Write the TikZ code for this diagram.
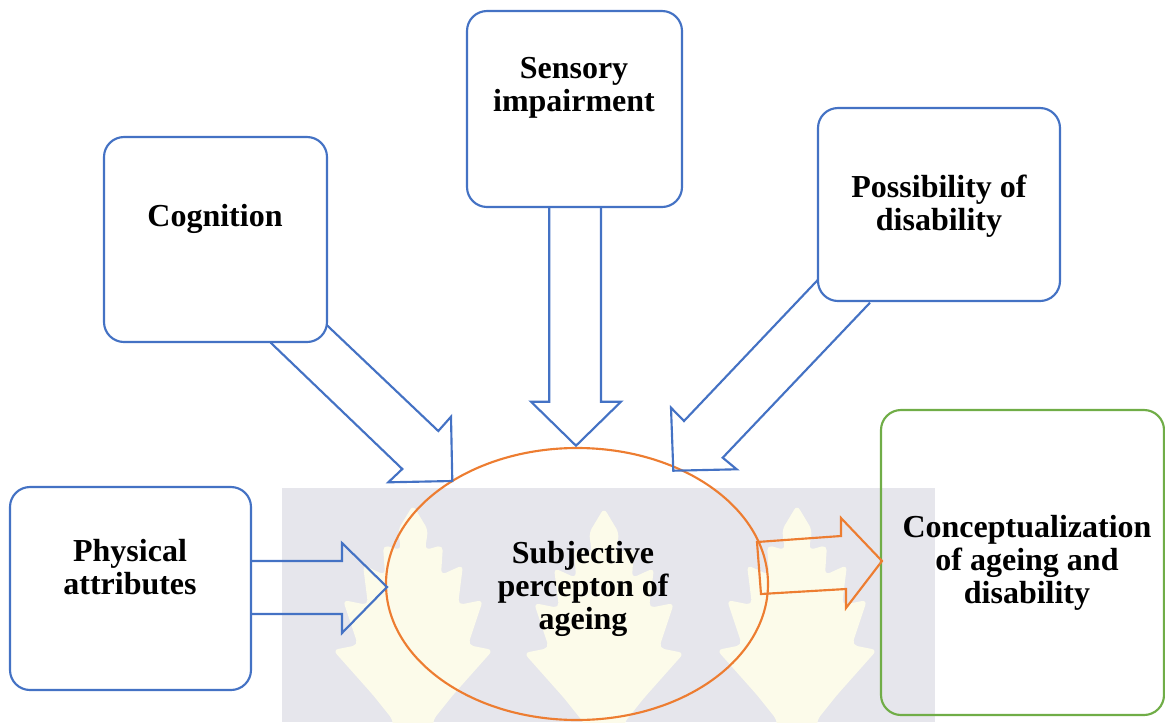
\documentclass[tikz,border=0pt]{standalone}
\usepackage{fontspec}
\setmainfont{Liberation Serif}
\usetikzlibrary{shapes.geometric}
\definecolor{wblue}{HTML}{4472C4}
\definecolor{worange}{HTML}{ED7D31}
\definecolor{wgreen}{HTML}{70AD47}
\definecolor{wmgrey}{HTML}{E6E6EC}
\definecolor{wmyellow}{HTML}{FCFBEA}
\begin{document}
\begin{tikzpicture}[x=0.75pt,y=-0.75pt,
  box/.style={draw=wblue,line width=1.6pt,rounded corners=15pt,rectangle,inner sep=0pt,fill=white},
  gbox/.style={draw=wgreen,line width=1.6pt,rounded corners=15pt,rectangle,inner sep=0pt},
  lbl/.style={align=center,font=\fontsize{24}{25}\selectfont\bfseries,inner sep=0pt},
  barrow/.style={draw=wblue,line width=1.6pt,line join=miter},
  oarrow/.style={draw=worange,line width=1.6pt,line join=miter},
  leaf/.style={fill=wmyellow,draw=none,rounded corners=4pt}]
\useasboundingbox (0,0) rectangle (1165,722);
% watermark background
\fill[wmgrey] (282,488) rectangle (935,722);
\foreach \cx/\ty in {413/505,604/508,797/505}{
  \fill[leaf] (\cx,\ty) -- ++(15,25) -- ++(-3,20) -- ++(18,-5) -- ++(-2,30) -- ++(22,-10) -- ++(-5,40) -- ++(25,-5) -- ++(-15,45) -- ++(25,5) -- ++(-40,45) -- ++(-20,25) -- ++(0,30)
   -- ++(-40,0) -- ++(0,-30) -- ++(-20,-25) -- ++(-40,-45) -- ++(25,-5) -- ++(-15,-45) -- ++(25,5) -- ++(-5,-40) -- ++(22,10) -- ++(-2,-30) -- ++(18,5) -- ++(-3,-20) -- cycle;
}
% boxes
\node[box,minimum width=167.25pt,minimum height=153.75pt] (cogbox) at (215.5,239.5) {};
\node[box,minimum width=161.25pt,minimum height=147pt] (senbox) at (574.5,109) {};
\node[box,minimum width=181.5pt,minimum height=144.75pt] (posbox) at (939,204.5) {};
\node[box,minimum width=180.75pt,minimum height=152.25pt] (phybox) at (130.5,588.5) {};
\node[gbox,minimum width=212.25pt,minimum height=228.75pt] (conbox) at (1022.5,562.5) {};
\node[ellipse,draw=worange,line width=1.6pt,minimum width=286.5pt,minimum height=204pt,inner sep=0pt] (subj) at (577,584) {};
% labels
\node[lbl] (cogtxt) at (215,219) {Cognition};
\node[lbl] (sentxt) at (574,88) {Sensory\\impairment};
\node[lbl] (postxt) at (939,206) {Possibility of\\disability};
\node[lbl] (phytxt) at (130,567) {Physical\\attributes};
\node[lbl] (subtxt) at (583,589) {Subjective\\percepton of\\ageing};
\node[lbl] (contxt) at (1027,563) {Conceptualization\\of ageing and\\disability};
% block arrows
\draw[barrow] (270.7,342.7) -- (402.3,469) -- (388.3,482.3) -- (452.3,481) -- (451,416.7) -- (438.3,431) -- (326.7,325);
\draw[barrow] (549.3,207) -- (549.3,401.7) -- (531,401.7) -- (576,445.7) -- (621,401.7) -- (601,401.7) -- (601,207);
\draw[barrow] (817.7,280) -- (684,421) -- (671,407.7) -- (673.3,470.7) -- (736.7,469.3) -- (722.7,457.7) -- (870,302.7);
\draw[barrow] (251,561) -- (342,561) -- (342,543) -- (387,587) -- (342,633) -- (342,614) -- (251,614);
\draw[oarrow] (757,542) -- (841,536) -- (841,518) -- (882,561) -- (846,608) -- (846,589) -- (761,594) -- cycle;
\end{tikzpicture}
\end{document}
